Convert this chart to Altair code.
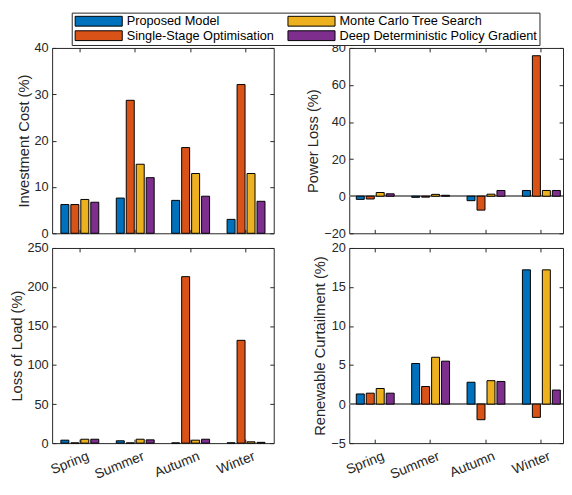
import altair as alt
import pandas as pd

seasons = ["Spring", "Summer", "Autumn", "Winter"]
methods = ["Proposed Model", "Single-Stage Optimisation",
           "Monte Carlo Tree Search", "Deep Deterministic Policy Gradient"]
colors = ["#0072BD", "#D95319", "#EDB120", "#7E2F8E"]

# Investment Cost (%)
ic_pm = [6.2, 7.6, 7.1, 3.0]
ic_sso = [6.2, 28.7, 18.5, 32.1]
ic_mcts = [7.3, 14.9, 12.9, 12.9]
ic_ddpg = [6.7, 12.0, 8.0, 6.9]

# Power Loss (%)
pl_pm = [-1.7, -0.6, -2.4, 3.1]
pl_sso = [-1.5, -0.5, -7.5, 75.8]
pl_mcts = [2.0, 1.0, 1.1, 3.1]
pl_ddpg = [1.3, 0.5, 3.1, 3.1]

# Loss of Load (%)
ll_pm = [3.8, 3.0, 0.3, 0.4]
ll_sso = [0.3, 0.3, 213.3, 131.7]
ll_mcts = [5.0, 5.0, 3.8, 1.7]
ll_ddpg = [5.0, 4.2, 5.0, 1.0]

# Renewable Curtailment (%)
rc_pm = [1.3, 5.2, 2.8, 17.2]
rc_sso = [1.4, 2.25, -2.0, -1.7]
rc_mcts = [2.0, 6.0, 3.0, 17.2]
rc_ddpg = [1.4, 5.5, 2.9, 1.8]

FONT = "Liberation Sans"
AXC = "#262626"


def make_df(series):
    rows = []
    for m, vals in zip(methods, series):
        for s, v in zip(seasons, vals):
            rows.append({"Season": s, "Method": m, "Value": v})
    return pd.DataFrame(rows)


legend = alt.Legend(
    orient="none", legendX=20, legendY=-36, columns=2, title=None,
    symbolType="M-1,-1H8.6V1H-1Z", symbolSize=100,
    symbolStrokeColor="black", symbolStrokeWidth=1, symbolOpacity=1,
    labelFont=FONT, labelFontSize=13, labelColor="black", labelOffset=41,
    labelLimit=400, columnPadding=11, rowPadding=0, padding=2,
    strokeColor=AXC, fillColor="white",
)


def panel(series, lo, hi, ticks, ytitle, width, height, align, po, xlabels, zero_line):
    df = make_df(series)
    xscale = alt.Scale(domain=seasons, paddingInner=0.28, paddingOuter=po, align=align)
    offscale = alt.Scale(domain=methods, paddingInner=0.2, paddingOuter=0.1)
    yscale = alt.Scale(domain=[lo, hi], nice=False, zero=False)
    bottom = alt.Axis(orient="bottom", labels=xlabels, labelAngle=338, labelPadding=6,
                      labelOffset=6, labelFontSize=14, tickSize=4, offset=-4,
                      domain=False, title=None, grid=False)
    left = alt.Axis(orient="left", values=ticks, tickSize=4, offset=-4, domain=False,
                    labelPadding=4, title=ytitle, titlePadding=3, grid=False)
    top = alt.Axis(orient="top", labels=False, tickSize=4, offset=-4, domain=False,
                   title=None, grid=False)
    right = alt.Axis(orient="right", values=ticks, labels=False, tickSize=4, offset=-4,
                     domain=False, title=None, grid=False)
    base = alt.Chart(df)
    bars = base.mark_bar(stroke="black", strokeWidth=1).encode(
        x=alt.X("Season:N", sort=seasons, scale=xscale, axis=bottom),
        xOffset=alt.XOffset("Method:N", sort=methods, scale=offscale),
        y=alt.Y("Value:Q", scale=yscale, axis=left),
        color=alt.Color("Method:N", scale=alt.Scale(domain=methods, range=colors),
                        legend=legend),
    )
    frame = base.mark_point(opacity=0).encode(
        x=alt.X("Season:N", sort=seasons, scale=xscale, axis=top),
        y=alt.Y("Value:Q", scale=yscale, axis=right),
    )
    layers = []
    if zero_line:
        layers.append(base.mark_rule(color="#7f7f7f", strokeWidth=1).encode(
            y=alt.YDatum(0, axis=None)))
    layers += [bars, frame]
    return alt.layer(*layers).resolve_axis(x="independent", y="independent").properties(
        width=width, height=height)


tl = panel([ic_pm, ic_sso, ic_mcts, ic_ddpg], 0, 40, [0, 10, 20, 30, 40],
           "Investment Cost (%)", 226, 189, 0.5, 0.14, False, False)
tr = panel([pl_pm, pl_sso, pl_mcts, pl_ddpg], -20, 80, [-20, 0, 20, 40, 60, 80],
           "Power Loss (%)", 218, 189, 0.78, 0.07, False, True)
bl = panel([ll_pm, ll_sso, ll_mcts, ll_ddpg], 0, 250, [0, 50, 100, 150, 200, 250],
           "Loss of Load (%)", 226, 199, 0.5, 0.14, True, False)
br = panel([rc_pm, rc_sso, rc_mcts, rc_ddpg], -5, 20, [-5, 0, 5, 10, 15, 20],
           "Renewable Curtailment (%)", 218, 199, 0.78, 0.07, True, True)

chart = alt.concat(
    tl, tr, bl, br, columns=2, spacing={"row": 15, "column": 77}, bounds="flush"
).resolve_scale(
    x="independent", y="independent", xOffset="independent", color="shared"
).properties(
    padding={"left": 0, "top": -1, "right": 0, "bottom": 0}
).configure_view(
    stroke=AXC, strokeWidth=1
).configure_axis(
    labelFont=FONT, labelFontSize=13, labelColor=AXC, tickColor=AXC,
    titleFont=FONT, titleFontSize=15, titleFontWeight="normal", titleColor=AXC,
)

chart.save("out.html", embed_options={"renderer": "svg", "actions": False})
